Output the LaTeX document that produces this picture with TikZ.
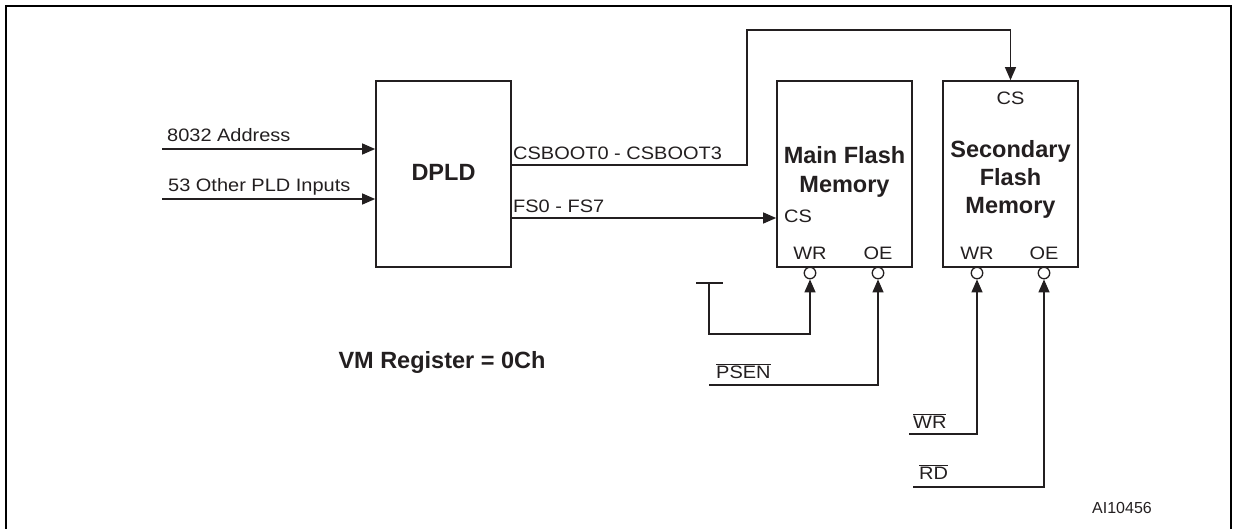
\documentclass[tikz,border=0pt]{standalone}
\usepackage{fontspec}
\usepackage{graphicx}
\setmainfont{Liberation Sans}
\usetikzlibrary{arrows.meta}
\definecolor{ink}{HTML}{231F20}
\newcommand{\hsc}[1]{\scalebox{1.11}[1]{#1}}
\begin{document}
\begin{tikzpicture}[x=1pt,y=-1pt,
  ink/.style={draw=ink, text=ink},
  blk/.style={ink, line width=1.7pt, inner sep=0pt},
  wire/.style={draw=ink, line width=1.3pt},
  arr/.style={wire, -{Triangle[length=13pt,width=11pt]}},
  lbl/.style={text=ink, font=\fontsize{18}{20}\selectfont, inner sep=0pt, anchor=base west},
  clbl/.style={lbl, anchor=base},
  big/.style={text=ink, font=\fontsize{23.5}{28}\selectfont\bfseries, inner sep=0pt, anchor=base},
  bubble/.style={circle, draw=ink, line width=1.3pt, fill=white, minimum size=11.5pt, inner sep=0pt}
]
\useasboundingbox (0,0) rectangle (1237,528);
% frame
\draw[line width=2.5pt, black] (6,535) -- (6,6) -- (1231,6) -- (1231,535);

% blocks
\node[blk, draw, minimum width=135pt, minimum height=186pt] (dpld) at (443.5,174) {};
\node[blk, draw, minimum width=135pt, minimum height=186pt] (main) at (844.5,174) {};
\node[blk, draw, minimum width=135pt, minimum height=186pt] (sec) at (1010.5,174) {};

\node[big] (dpldt) at (443.5,180) {DPLD};
\node[big] (mt1) at (844.5,163) {Main Flash};
\node[big] (mt2) at (844.5,192) {Memory};
\node[big] (st1) at (1010.5,157) {Secondary};
\node[big] (st2) at (1010.5,185) {Flash};
\node[big] (st3) at (1010.5,213) {Memory};

% pins inside blocks
\node[clbl] (scs) at (1010.5,104) {\hsc{CS}};
\node[lbl] (mcs) at (784,222) {\hsc{CS}};
\node[clbl] (mwrl) at (810,259) {\hsc{WR}};
\node[clbl] (moel) at (878,259) {\hsc{OE}};
\node[clbl] (swrl) at (977,259) {\hsc{WR}};
\node[clbl] (soel) at (1044,259) {\hsc{OE}};

% bubbles
\node[bubble] (mwr) at (810,273) {};
\node[bubble] (moe) at (878,273) {};
\node[bubble] (swr) at (977,273) {};
\node[bubble] (soe) at (1044,273) {};

% inputs
\coordinate (in1) at (162,149);
\coordinate (in2) at (162,199);
\draw[arr] (in1) -- (dpld.west |- in1);
\draw[arr] (in2) -- (dpld.west |- in2);
\node[lbl] (l1) at (167,141) {\hsc{8032 Address}};
\node[lbl] (l2) at (168,191) {\hsc{53 Other PLD Inputs}};

% outputs
\draw[arr] (dpld.east |- 0,165) -- (747,165) -- (747,30) -- (sec.north |- 0,30) -- (sec.north);
\node[lbl] (l3) at (513,159) {\hsc{CSBOOT0 - CSBOOT3}};
\draw[arr] (dpld.east |- 0,218) -- (main.west |- 0,218);
\node[lbl] (l4) at (513,212) {\hsc{FS0 - FS7}};

% WR of main tied to T
\coordinate (tl) at (696,283);
\coordinate (tr) at (723,283);
\coordinate (tm) at (709,283);
\draw[wire] (tl) -- (tr);
\draw[arr] (tm) -- (709,334) -- (mwr.south |- 0,334) -- (mwr.south);

% PSEN
\coordinate (psen) at (709,385);
\draw[arr] (psen) -- (moe.south |- psen) -- (moe.south);
\node[lbl] (l5) at (716,378) {\hsc{$\overline{\mbox{PSEN}}$}};

% WR
\coordinate (wrs) at (909,434);
\draw[arr] (wrs) -- (swr.south |- wrs) -- (swr.south);
\node[lbl] (l6) at (913,428) {\hsc{$\overline{\mbox{WR}}$}};

% RD
\coordinate (rds) at (913,487);
\draw[arr] (rds) -- (soe.south |- rds) -- (soe.south);
\node[lbl] (l7) at (919,479) {\hsc{$\overline{\mbox{RD}}$}};

\node[big] (vm) at (442,368) {VM Register = 0Ch};
\node[lbl, font=\fontsize{16}{18}\selectfont] (ai) at (1092,513) {AI10456};
\end{tikzpicture}
\end{document}
